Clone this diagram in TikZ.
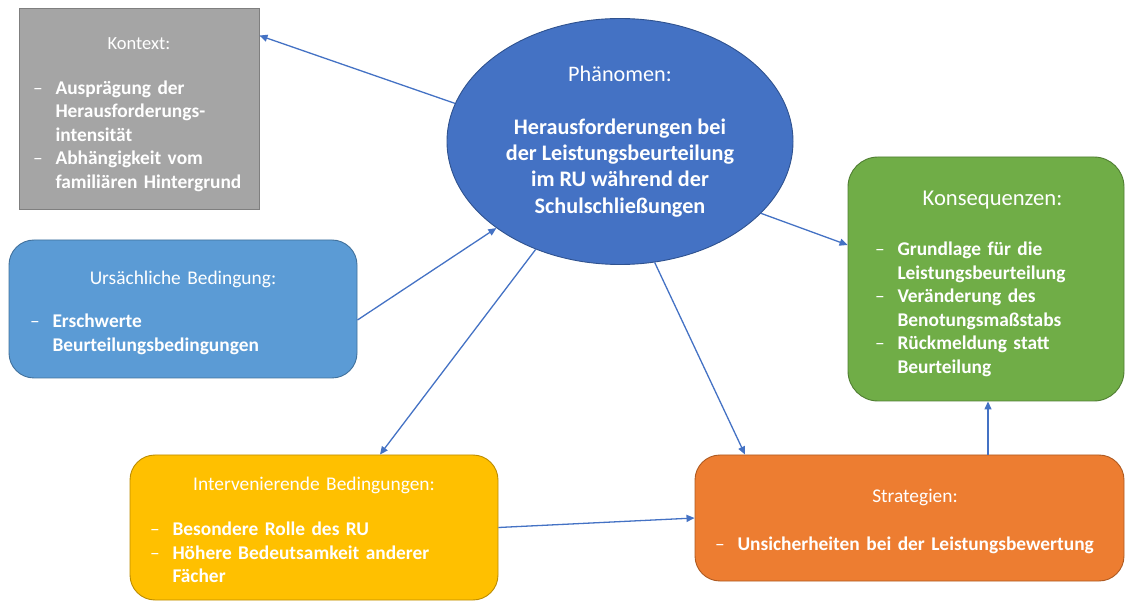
\documentclass[tikz,border=0pt]{standalone}
\usepackage{fontspec}
\setmainfont{Carlito}
\usetikzlibrary{shapes.geometric,arrows.meta,calc}

\definecolor{ctxfill}{HTML}{A5A5A5}
\definecolor{ctxline}{HTML}{7F7F7F}
\definecolor{phfill}{HTML}{4472C4}
\definecolor{phline}{HTML}{2F528F}
\definecolor{ursfill}{HTML}{5B9BD5}
\definecolor{ursline}{HTML}{41719C}
\definecolor{konfill}{HTML}{70AD47}
\definecolor{konline}{HTML}{507E32}
\definecolor{intfill}{HTML}{FFC000}
\definecolor{intline}{HTML}{BC8C00}
\definecolor{strfill}{HTML}{ED7D31}
\definecolor{strline}{HTML}{AE5A21}
\definecolor{arrowblue}{HTML}{4472C4}

\setlength\lineskip{0pt}
% box heading: top padding, centred title, gap to the first list entry
\newcommand\boxtitle[3][46pt]{\vskip#2\relax{\centering #3\par}%
  \vskip\dimexpr#1-23.6pt\relax}
% list entry: dash, then bold lines
\newlength\dashgap
\setlength\dashgap{22.5pt}
\newcommand\bitem[1]{\par\noindent\makebox[\dashgap][l]{–}%
  \parbox[t]{600pt}{\raggedright\bfseries #1\strut}\par
  \prevdepth=\dp\strutbox}

\tikzset{
  infobox/.style={draw, line width=0.9pt, text=white, align=left,
    inner ysep=4pt, font=\fontsize{19.4pt}{23.6pt}\selectfont},
  conn/.style={draw=arrowblue, line width=1.3pt,
    -{Triangle[length=8pt,width=7pt]}},
}

\begin{document}
\begin{tikzpicture}[x=1pt,y=-1pt]
\useasboundingbox (0,0) rectangle (1125,601);

% central phenomenon
\node[ellipse, draw=phline, fill=phfill, line width=0.9pt, text=white,
      minimum width=346pt, minimum height=246pt, inner sep=0pt, align=center,
      font=\fontsize{22.2pt}{26.4pt}\selectfont] (ph) at (620,141.5)
  {Phänomen:\\[26.4pt]
   \textbf{Herausforderungen bei}\\
   \textbf{der Leistungsbeurteilung}\\
   \textbf{im RU während der}\\
   \textbf{Schulschließungen}};

% context
\node[infobox, draw=ctxline, fill=ctxfill, inner xsep=14pt,
      minimum width=240pt, minimum height=201pt, text width=212pt] (ctx) at (139,108.5)
  {\boxtitle[45pt]{4pt}{\fontsize{18.5pt}{23.6pt}\selectfont Kontext:}%
   \bitem{Ausprägung der\\Herausforderungs-\\intensität}%
   \bitem{Abhängigkeit vom\\familiären Hintergrund}};

% causal condition
\node[infobox, draw=ursline, fill=ursfill, rounded corners=25pt, inner xsep=21pt,
      minimum width=348pt, minimum height=138pt, text width=306pt] (urs) at (183,309)
  {\boxtitle[43pt]{2pt}{Ursächliche Bedingung:}%
   \bitem{Erschwerte\\Beurteilungsbedingungen}};

% consequences
\node[infobox, draw=konline, fill=konfill, rounded corners=30pt, inner xsep=27pt,
      minimum width=276pt, minimum height=244pt, text width=222pt] (kon) at (986,279)
  {\boxtitle[50pt]{4.5pt}{\fontsize{22.6pt}{23.6pt}\selectfont\hspace*{13pt}Konsequenzen:}%
   \bitem{Grundlage für die\\Leistungsbeurteilung}%
   \bitem{Veränderung des\\Benotungsmaßstabs}%
   \bitem{Rückmeldung statt\\Beurteilung}};

% intervening conditions
\node[infobox, draw=intline, fill=intfill, rounded corners=25pt, inner xsep=20pt,
      minimum width=368pt, minimum height=145pt, text width=328pt] (int) at (314,527.5)
  {\boxtitle[45pt]{1.5pt}{Intervenierende Bedingungen:}%
   \bitem{Besondere Rolle des RU}%
   \bitem{Höhere Bedeutsamkeit anderer\\Fächer}};

% strategies
\node[infobox, draw=strline, fill=strfill, rounded corners=25pt, inner xsep=20pt,
      minimum width=429pt, minimum height=126pt, text width=389pt] (str) at (909.5,518)
  {\boxtitle[48pt]{1pt}{\hspace*{11pt}Strategien:}%
   \bitem{Unsicherheiten bei der Leistungsbewertung}};

% connectors
\draw[conn] (ph.167.8) -- ($(ctx.north east)+(0,28)$);
\draw[conn] ($(urs.east)+(0,11)$) -- (ph.215);
\draw[conn] (ph.333.4) -- ($(kon.west)+(0,-34)$);
\draw[conn] (ph.232.5) -- ($(int.north)+(66,0)$);
\draw[conn] (ph.286.3) -- ($(str.north)+(-164.5,0)$);
\draw[conn] (int.east) -- (str.west);
\draw[conn] ($(str.north)+(78.5,0)$) -- ($(kon.south)+(2,0)$);
\end{tikzpicture}
\end{document}
